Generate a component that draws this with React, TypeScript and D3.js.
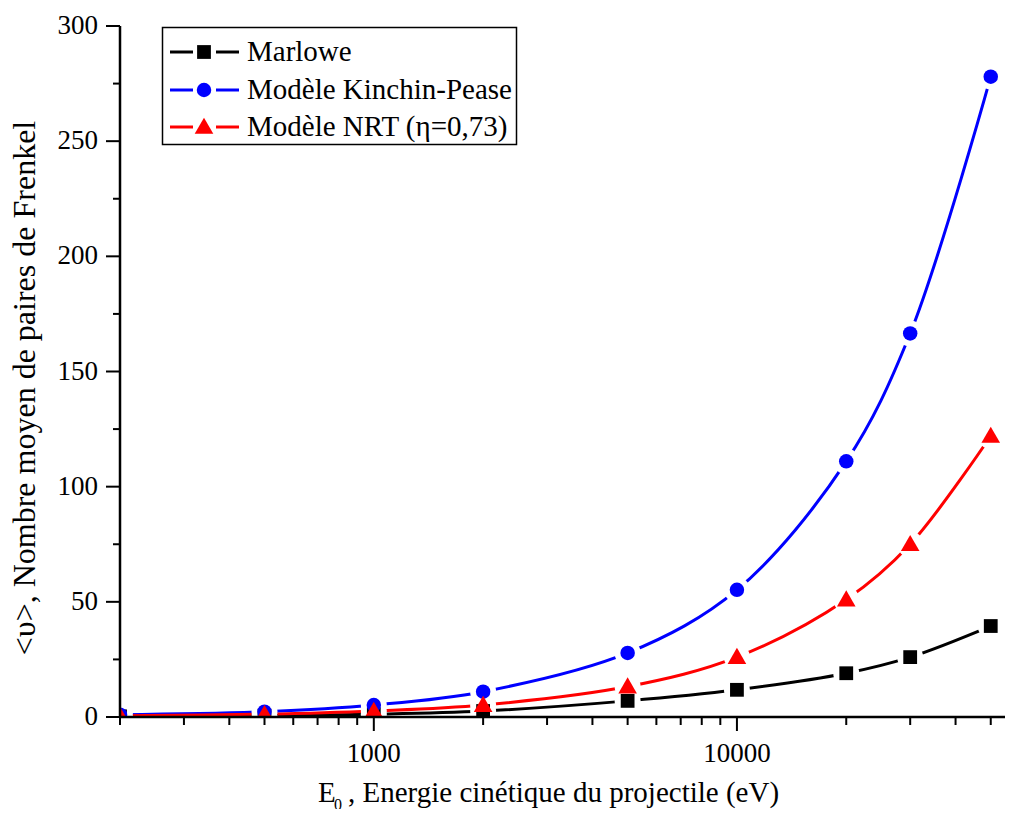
import React from "react";
import * as d3 from "d3";

// energies (eV) and mean number of Frenkel pairs
const energies = [200, 500, 1000, 2000, 5000, 10000, 20000, 30000, 50000];
const marlowe = [0.3, 0.6, 1.2, 2.6, 7, 11.8, 19, 26, 39.5];
const kinchinPease = [1, 2.3, 5.2, 11, 27.8, 55.2, 111, 166.5, 278];
const nrt = [0.5, 1.2, 2.6, 5.2, 13.2, 26, 51, 75, 122];

const yMajorTicks = [0, 50, 100, 150, 200, 250, 300];
const yMinorTicks = [25, 75, 125, 175, 225, 275];
const xMajorTicks = [1000, 10000];
const xMinorTicks = [200, 300, 400, 500, 600, 700, 800, 900, 2000, 3000, 4000, 5000, 6000, 7000, 8000, 9000, 20000, 30000, 40000, 50000];

const seriesNames = ["Marlowe", "Modèle Kinchin-Pease", "Modèle NRT (η=0,73)"];
const seriesColors = ["#000000", "#0000ff", "#ff0000"];
const seriesSymbols = ["square", "circle", "triangle"];

const FONT = '"Liberation Serif"';

const W = 1013;
const H = 817;
const plotLeft = 120;
const plotTop = 26;
const plotBottom = 717;

const x = d3.scaleLog().domain([200, 60000]).range([plotLeft, 1019.5]);
const y = d3.scaleLinear().domain([0, 300]).range([plotBottom, plotTop]);

const symbolPath = (sym: string) => {
  if (sym === "square") return d3.symbol(d3.symbolSquare, 190)() as string;
  if (sym === "circle") return d3.symbol(d3.symbolCircle, 165)() as string;
  return d3.symbol(d3.symbolTriangle, 150)() as string;
};

const line = d3
  .line<number>()
  .x((_d, j) => x(energies[j]))
  .y((d) => y(d))
  .curve(d3.curveCatmullRom.alpha(0.5));

export default function App() {
  const series = [marlowe, kinchinPease, nrt].map((values, i) => ({
    name: seriesNames[i],
    values,
    color: seriesColors[i],
    symbol: seriesSymbols[i],
  }));
  const legendRows = [52, 90, 127];
  const txt = { fontFamily: FONT };

  return (
    <div style={{ margin: -8 }}>
      <svg width={W} height={H} fontFamily="Liberation Serif" style={{ display: "block", fontFamily: FONT }}>
        <defs>
          <clipPath id="plot-clip">
            <rect x={plotLeft} y={0} width={W - plotLeft} height={plotBottom} />
          </clipPath>
          {series.map((s, i) => (
            <mask id={`gap-${i}`} key={i} maskUnits="userSpaceOnUse" x={0} y={0} width={W} height={H}>
              <rect x={0} y={0} width={W} height={H} fill="white" />
              {energies.map((e, j) => (
                <circle key={j} cx={x(e)} cy={y(s.values[j])} r={13} fill="black" />
              ))}
            </mask>
          ))}
        </defs>

        <g clipPath="url(#plot-clip)">
          {series.map((s, i) => (
            <path
              key={`l${i}`}
              d={line(s.values) as string}
              fill="none"
              stroke={s.color}
              strokeWidth={3}
              strokeLinecap="round"
              mask={`url(#gap-${i})`}
            />
          ))}
          {series.map((s, i) =>
            s.values.map((v, j) => (
              <path
                key={`m${i}-${j}`}
                transform={`translate(${x(energies[j])},${y(v) + (s.symbol === "triangle" ? 1.5 : 0)})`}
                d={symbolPath(s.symbol)}
                fill={s.color}
              />
            )),
          )}
        </g>

        {/* x axis */}
        <g>
          <line x1={plotLeft} x2={W} y1={plotBottom} y2={plotBottom} stroke="#000" strokeWidth={2.5} />
          {xMinorTicks.map((t) => (
            <line key={t} x1={x(t)} x2={x(t)} y1={plotBottom} y2={plotBottom + 8} stroke="#000" strokeWidth={2} />
          ))}
          {xMajorTicks.map((t) => (
            <line key={t} x1={x(t)} x2={x(t)} y1={plotBottom} y2={plotBottom + 14} stroke="#000" strokeWidth={2} />
          ))}
          {xMajorTicks.map((t) => (
            <text key={t} x={x(t)} y={762} textAnchor="middle" fontSize={27} style={txt}>
              {t}
            </text>
          ))}
        </g>

        {/* y axis */}
        <g>
          <line x1={plotLeft} x2={plotLeft} y1={plotTop} y2={plotBottom + 1} stroke="#000" strokeWidth={2.5} />
          {yMinorTicks.map((t) => (
            <line key={t} x1={113} x2={plotLeft} y1={y(t)} y2={y(t)} stroke="#000" strokeWidth={2} />
          ))}
          {yMajorTicks.map((t) => (
            <line key={t} x1={106} x2={plotLeft} y1={y(t)} y2={y(t)} stroke="#000" strokeWidth={2} />
          ))}
          {yMajorTicks.map((t) => (
            <text key={t} x={98} y={y(t) + 8} textAnchor="end" fontSize={27} style={txt}>
              {t}
            </text>
          ))}
        </g>

        {/* axis titles */}
        <text x={318} y={802} fontSize={29} style={txt}>
          E
        </text>
        <text x={334} y={810} fontSize={16} style={txt}>
          0
        </text>
        <text x={348} y={802} fontSize={29} style={txt}>
          {", Energie cinétique du projectile (eV)"}
        </text>
        <text transform="translate(35,388) rotate(-90)" textAnchor="middle" fontSize={32} style={txt}>
          {"<υ>, Nombre moyen de paires de Frenkel"}
        </text>

        {/* legend */}
        <g>
          <rect x={162.5} y={27.5} width={354} height={117} fill="white" stroke="#000" strokeWidth={1.5} />
          {series.map((s, i) => {
            const ly = legendRows[i];
            return (
              <g key={i}>
                <line x1={170} x2={193} y1={ly} y2={ly} stroke={s.color} strokeWidth={3} />
                <line x1={216} x2={239} y1={ly} y2={ly} stroke={s.color} strokeWidth={3} />
                <path
                  transform={`translate(204,${ly + (s.symbol === "triangle" ? 1.5 : 0)})`}
                  d={symbolPath(s.symbol)}
                  fill={s.color}
                />
                <text x={247} y={ly + 9} fontSize={29} style={txt}>
                  {s.name}
                </text>
              </g>
            );
          })}
        </g>
      </svg>
    </div>
  );
}
